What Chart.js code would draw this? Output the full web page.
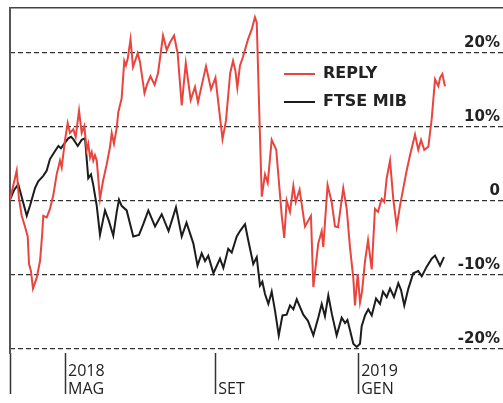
<!DOCTYPE html>
<html><head><meta charset="utf-8">
<script src="https://cdn.jsdelivr.net/npm/chart.js@4/dist/chart.umd.min.js"></script>
<style>html,body{margin:0;padding:0;background:#fff;}#wrap{position:relative;width:503px;height:403px;}</style>
</head><body><div id="wrap"><canvas id="c"></canvas></div>
<script>
// days since 16 Mar 2018, percent change
const replyDays = [0,5.6,7.5,9.8,12.5,14.8,15.9,17.5,19.2,22.3,25.1,27.0,27.8,30.7,33.4,36.2,39.0,41.8,43.2,46.0,48.2,50.1,52.9,54.9,57.7,59.9,62.1,64.1,65.4,66.9,68.3,69.6,71.0,72.5,75.2,77.7,80.8,83.6,85.0,86.9,89.2,90.5,93.3,95.5,96.9,98.4,100.7,102.8,106.7,108.6,112.4,114.5,117.4,120.8,123.7,127.9,131.0,133.7,137.1,140.1,143.5,146.9,151.0,154.6,157.1,160.5,163.8,168.0,171.7,177.6,180.5,184.0,186.4,188.4,190.0,192.2,194.7,198.9,202.0,204.7,206.2,209.0,210.4,213.1,215.4,218.7,222.5,227.1,229.2,231.2,234.0,236.8,238.8,242.0,246.5,251.5,253.5,257.6,260.5,261.8,265.4,268.8,271.6,274.1,278.5,281.4,284.1,286.9,288.3,290.6,292.5,294.2,296.7,299.2,302.3,305.0,307.5,310.6,312.8,314.8,317.6,320.3,323.2,325.9,328.7,331.5,334.3,338.5,341.2,343.5,346.2,349.6,352.4,355.2,358.0,359.4,361.3,363.5];
const replyValues = [0,3.8,0.1,-2.1,-3.5,-4.8,-8.4,-9.3,-11.6,-10.2,-8.0,-4.3,-2.1,-2.3,-1.2,0.6,3.3,5.1,4.2,7.8,10.0,8.7,9.2,8.2,11.6,8.7,9.6,6.5,7.3,5.5,6.2,5.1,5.8,5.1,0.1,2.4,4.6,6.9,8.7,7.3,9.4,11.4,13.2,18.1,17.5,18.4,20.9,17.3,19.1,18.0,13.9,15.0,16.1,15.0,16.5,21.4,19.5,20.5,21.4,19.1,12.3,17.8,13.0,14.7,12.7,15.1,17.4,14.4,15.9,7.9,10.3,16.5,18.1,16.8,14.6,17.5,18.6,20.9,22.2,23.8,23.1,7.8,0.4,3.3,2.2,7.8,6.5,-2.1,-5.0,-0.1,-1.6,1.8,-0.3,1.3,-3.5,-2.1,-11.4,-5.7,-4.1,-6.2,1.9,-0.3,-3.5,-3.6,1.5,-1.2,-6.2,-10.2,-13.8,-9.7,-13.4,-12.0,-8.0,-5.3,-9.1,-1.2,-1.6,0.1,-0.3,2.8,5.1,0.1,-3.5,-0.8,1.5,3.8,5.8,8.5,6.5,7.8,6.5,6.9,10.5,15.7,14.8,15.9,16.4,14.8];
const ftseDays = [0,3.6,6.9,10.9,14.0,16.7,20.9,23.6,27.8,30.7,33.4,36.2,40.4,42.6,45.4,48.7,51.0,52.9,56.6,59.9,62.7,64.1,65.4,67.7,69.6,72.5,75.2,79.4,82.7,86.3,89.2,91.1,93.3,97.5,103.0,107.8,111.4,115.6,121.2,126.8,132.5,138.7,143.5,147.5,153.2,156.7,160.2,163.0,165.7,170.0,175.5,178.3,182.4,185.3,189.5,192.2,196.4,199.1,203.3,206.2,208.9,210.9,213.1,215.9,218.7,221.5,224.6,227.7,231.2,234.0,236.8,239.6,245.1,249.0,253.5,257.6,260.5,263.2,266.0,269.1,273.0,277.2,280.0,282.0,284.1,286.9,289.7,292.5,293.9,296.7,299.4,302.3,305.9,309.2,311.7,314.8,317.6,320.9,324.5,326.8,329.5,332.9,337.0,341.2,344.1,348.0,352.4,355.2,359.4,362.7];
const ftseValues = [0,1.3,2.0,-0.3,-2.1,-0.8,1.5,2.4,3.1,3.8,5.3,6.0,7.0,6.7,7.3,8.0,8.2,7.9,7.0,7.8,8.0,5.3,2.8,3.3,1.9,-0.8,-4.6,-1.4,-2.8,-4.7,-1.6,0.0,-0.8,-1.4,-4.8,-4.6,-3.2,-1.4,-3.5,-1.9,-4.1,-1.0,-4.8,-3.0,-5.7,-8.6,-7.0,-8.0,-7.3,-9.6,-7.7,-8.9,-6.4,-6.9,-4.8,-4.1,-3.2,-5.3,-8.4,-7.5,-11.2,-10.7,-12.3,-13.6,-12.0,-14.5,-17.7,-15.1,-15.0,-13.8,-14.3,-13.0,-15.0,-15.8,-17.7,-15.4,-13.6,-15.2,-12.5,-15.0,-17.7,-15.4,-16.1,-15.7,-17.0,-18.8,-19.2,-18.8,-16.5,-15.1,-14.3,-15.1,-12.9,-13.6,-12.0,-12.7,-11.6,-12.7,-10.9,-11.8,-13.8,-11.6,-9.6,-9.3,-10.0,-8.8,-7.7,-7.3,-8.6,-7.5];
const seriesNames = ['REPLY', 'FTSE MIB'];
const xTickDays = [0, 46, 171.5, 291];
const xTickLabels = [[''], ['2018', 'MAG'], ['', 'SET'], ['2019', 'GEN']];
const yTickValues = [-20, -10, 0, 10, 20];

const toPoints = (xs, ys) => xs.map((d, i) => ({x: d, y: ys[i]}));
const noPad = s => { s.paddingTop = 0; s.paddingBottom = 0; s.paddingLeft = 0; s.paddingRight = 0; };

const legendPlacer = {
  id: 'legendPlacer',
  afterLayout(chart) {
    const lg = chart.legend;
    if (!lg) return;
    lg.left = 272; lg.top = 54;
    lg.right = 503; lg.bottom = chart.chartArea.bottom;
  }
};

new Chart(document.getElementById('c'), {
  type: 'line',
  data: {
    datasets: [
      {label: seriesNames[0], data: toPoints(replyDays, replyValues), borderColor: '#e8453f', backgroundColor: '#e8453f', borderWidth: 2, pointRadius: 0, tension: 0},
      {label: seriesNames[1], data: toPoints(ftseDays, ftseValues), borderColor: '#1c1c1c', backgroundColor: '#1c1c1c', borderWidth: 2, pointRadius: 0, tension: 0}
    ]
  },
  options: {
    responsive: true, maintainAspectRatio: false, animation: false,
    layout: {padding: {left: 10, top: 8, right: 0, bottom: 0}},
    plugins: {
      tooltip: {enabled: false},
      legend: {
        position: 'chartArea', align: 'start',
        labels: {usePointStyle: true, pointStyle: 'line', pointStyleWidth: 31, padding: 12, color: '#222',
          font: {family: 'DejaVu Sans', weight: 'bold', size: 16}}
      }
    },
    scales: {
      x: {
        type: 'linear', position: 'bottom', min: 0, max: 412,
        afterBuildTicks: s => { s.ticks = xTickDays.map(v => ({value: v})); },
        afterFit: s => { s.height = 50; noPad(s); },
        grid: {drawOnChartArea: false, drawTicks: true, tickLength: 41, tickColor: '#333', tickWidth: 1.5},
        border: {display: false},
        ticks: {autoSkip: false, maxRotation: 0, align: 'start', labelOffset: 3, padding: -31, color: '#222',
          font: {family: 'Open Sans', size: 16, lineHeight: 1.1},
          callback: (v, i) => xTickLabels[xTickDays.indexOf(v)]}
      },
      xt: {
        type: 'linear', position: 'top', display: true,
        afterFit: s => { s.height = 0; noPad(s); },
        grid: {display: false}, ticks: {display: false},
        border: {display: true, color: '#444', width: 1.5}
      },
      yl: {
        type: 'linear', position: 'left', display: true,
        afterFit: s => { s.width = 0; noPad(s); },
        grid: {display: false}, ticks: {display: false},
        border: {display: true, color: '#555', width: 2}
      },
      y: {
        type: 'linear', position: 'right', min: -20.54, max: 26.08,
        afterBuildTicks: s => { s.ticks = yTickValues.map(v => ({value: v})); },
        afterFit: s => { s.width = 0; noPad(s); },
        grid: {color: '#333', lineWidth: 1.3, drawTicks: false},
        border: {display: false, dash: [5, 3]},
        ticks: {mirror: true, padding: -3, labelOffset: -9.5, color: '#222',
          font: {family: 'DejaVu Sans', weight: 'bold', size: 15},
          callback: v => v === 0 ? '0' : v + '%'}
      }
    }
  },
  plugins: [legendPlacer]
});
</script>
</body></html>
